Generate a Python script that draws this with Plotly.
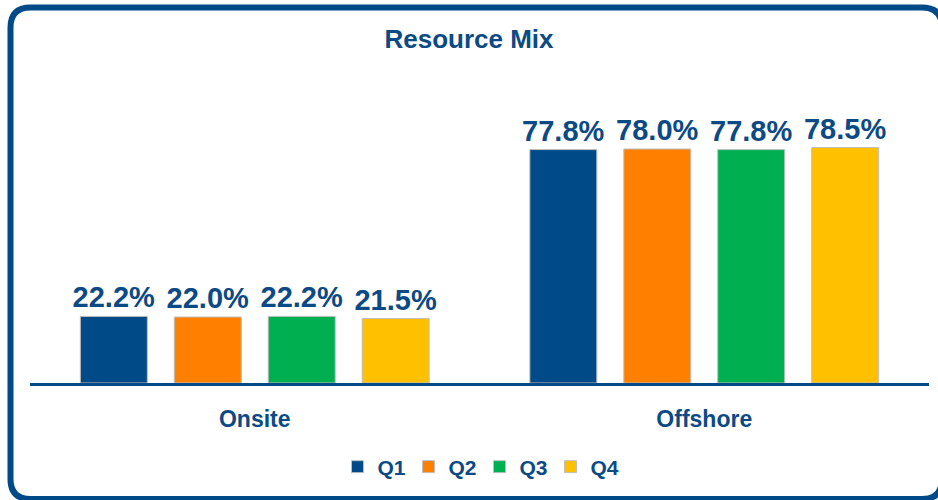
import plotly.graph_objects as go

categories = ["Onsite", "Offshore"]
quarters = ["Q1", "Q2", "Q3", "Q4"]
q1 = [22.2, 77.8]
q2 = [22.0, 78.0]
q3 = [22.2, 77.8]
q4 = [21.5, 78.5]
series = [q1, q2, q3, q4]
colors = ["#004B87", "#FF8000", "#00B050", "#FFC000"]

TXT = "#0B4A85"
FONT = "'Liberation Sans Narrow', 'Arial Narrow', 'Liberation Sans', Arial, sans-serif"

W, H = 938, 500
ML, MR, MT, MB = 30, 9, 80, 117
PW, PH = W - ML - MR, H - MT - MB
YMAX = PH / 3.0

fig = go.Figure()
for name, vals, col in zip(quarters, series, colors):
    fig.add_trace(go.Bar(
        name=name, x=categories, y=vals,
        marker=dict(color=col, line=dict(color="#BFBFBF", width=1)),
        texttemplate="%{y:.1f}%", textposition="outside", constraintext="none",
        textfont=dict(family=FONT, size=29, color=TXT, weight="bold"),
        cliponaxis=False,
    ))

# rounded border (pixel -> paper)
def px(x):
    return (x - ML) / PW
def py(y):
    return (H - MB - y) / PH

L, T, R, B, rad = 10.5, 7.5, 942, 499, 20
path = (f"M{px(L+rad)},{py(T)} L{px(R-rad)},{py(T)} Q{px(R)},{py(T)} {px(R)},{py(T+rad)} "
        f"L{px(R)},{py(B-rad)} Q{px(R)},{py(B)} {px(R-rad)},{py(B)} "
        f"L{px(L+rad)},{py(B)} Q{px(L)},{py(B)} {px(L)},{py(B-rad)} "
        f"L{px(L)},{py(T+rad)} Q{px(L)},{py(T)} {px(L+rad)},{py(T)} Z")

fig.update_layout(
    width=W, height=H,
    margin=dict(l=ML, r=MR, t=MT, b=MB),
    paper_bgcolor="white", plot_bgcolor="white",
    barmode="group", bargap=0.164, bargroupgap=0.287,
    title=dict(text="Resource Mix", x=0.5, xanchor="center", y=1 - 39 / H, yanchor="middle",
               font=dict(family=FONT, size=26, color=TXT, weight="bold")),
    xaxis=dict(showline=True, linecolor="#004B87", linewidth=3, showgrid=False,
               ticks="outside", ticklen=13, tickcolor="rgba(0,0,0,0)",
               tickfont=dict(family=FONT, size=23, color=TXT, weight="bold")),
    yaxis=dict(visible=False, range=[0, YMAX], showgrid=False, zeroline=False),
    showlegend=True,
    legend=dict(orientation="h", x=0.5, xanchor="center", y=py(467), yanchor="middle",
                font=dict(family=FONT, size=21, color=TXT, weight="bold"),
                entrywidth=26, traceorder="normal"),
    shapes=[dict(type="path", xref="paper", yref="paper", path=path,
                 line=dict(color="#004B87", width=6), layer="above")],
)

fig.write_html("out.html", config={"displayModeBar": False},
               post_script="document.body.style.margin='0';")
